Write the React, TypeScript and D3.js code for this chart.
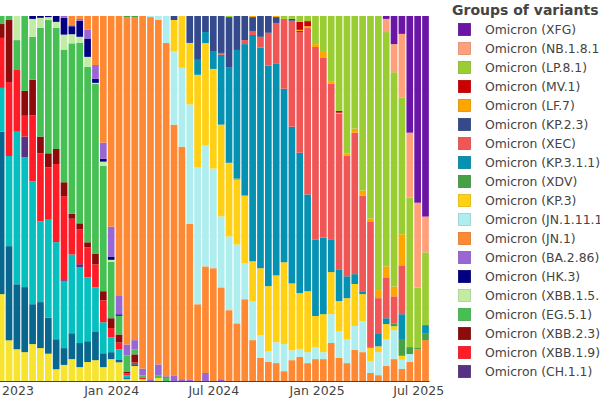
import React, { useEffect, useRef } from "react";
import * as d3 from "d3";

// biweekly samples, first one sits just left of the visible area
const firstWeek = "2023-06-19";
const weekCount = 55;
const tickDates = ["2023-07-01", "2024-01-01", "2024-07-01", "2025-01-01", "2025-07-01"];

// stack order, bottom to top
const variants = [
  "Omicron (XBB)",
  "Omicron (XBB.1.5)",
  "Omicron (XBB.1.16)",
  "Omicron (CH.1.1)",
  "Omicron (XBB.1.9)",
  "Omicron (XBB.2.3)",
  "Omicron (EG.5.1)",
  "Omicron (XBB.1.5.70)",
  "Omicron (HK.3)",
  "Omicron (BA.2.86)",
  "Omicron (JN.1)",
  "Omicron (JN.1.11.1)",
  "Omicron (KP.3)",
  "Omicron (XDV)",
  "Omicron (KP.3.1.1)",
  "Omicron (XEC)",
  "Omicron (KP.2.3)",
  "Omicron (LF.7)",
  "Omicron (MV.1)",
  "Omicron (LP.8.1)",
  "Omicron (NB.1.8.1)",
  "Omicron (XFG)",
];

const colors = [
  "#f6e42e", "#07678e", "#06bfbf", "#553284", "#ff1c27", "#8e0b0b",
  "#46bf53", "#c2eca4", "#000080", "#9966d4", "#ff8833", "#afeeee",
  "#ffd014", "#45a046", "#0591b1", "#f05656", "#344a8c", "#ffa500",
  "#cc0000", "#9acd32", "#ffa07a", "#6a15a6",
];

// share of sequences (%), one value per biweekly bar
const xbb = [23.8, 11.1, 8.7, 7.9, 10.1, 9.0, 7.4, 3.2, 4.4, 6.0, 3.8, 5.2, 5.7, 3.8, 6.0, 5.1, 0.5, 4.1, 0.5, 0, 0.8,
  0, 0, 0, 0, 0, 0, 0, 0, 0, 0, 0, 0, 0, 0, 0, 0, 0, 0, 0, 0, 0, 0, 0, 0, 0, 0, 0, 0, 0, 0, 0, 0, 0, 0];
const xbb15 = [44.5, 25.7, 17.8, 17.8, 10.9, 12.6, 9.8, 8.2, 4.6, 7.1, 6.6, 5.7, 7.9, 3.8, 1.9, 0.8, 0.3, 0.5,
  0, 0, 0, 0, 0, 0, 0, 0, 0, 0, 0, 0, 0, 0, 0, 0, 0, 0, 0, 0, 0, 0, 0, 0, 0, 0, 0, 0, 0, 0, 0, 0, 0, 0, 0, 0, 0];
const xbb116 = [12.0, 24.6, 41.8, 35.5, 33.6, 22.1, 26.5, 26.5, 18.3, 21.6, 20.8, 17.5, 12.0, 8.5, 4.1, 2.7, 0.8,
  0, 0, 0, 0, 0, 0, 0, 0, 0, 0, 0, 0, 0, 0, 0, 0, 0, 0, 0, 0, 0, 0, 0, 0, 0, 0, 0, 0, 0, 0, 0, 0, 0, 0, 0, 0, 0, 0];
const ch11 = [0, 0, 0, 5.7, 0, 0, 0, 0, 0.3, 0, 0.8,
  0, 0, 0, 0, 0, 0, 0, 0, 0, 0, 0, 0, 0, 0, 0, 0, 0, 0, 0, 0, 0, 0, 0, 0, 0, 0, 0, 0, 0, 0, 0, 0, 0, 0, 0, 0, 0, 0, 0, 0, 0, 0, 0, 0];
const xbb19 = [13.7, 20.2, 16.9, 5.7, 18.0, 18.6, 14.2, 21.3, 23.0, 9.8, 9.6, 8.2, 6.3, 6.0, 2.5, 1.9, 0.5, 0.5, 0.5,
  0, 0, 0, 0, 0, 0, 0, 0, 0, 0, 0, 0, 0, 0, 0, 0, 0, 0, 0, 0, 0, 0, 0, 0, 0, 0, 0, 0, 0, 0, 0, 0, 0, 0, 0, 0];
const xbb23 = [3.8, 16.9, 0, 6.8, 9.8, 4.6, 3.8, 4.1, 3.8, 1.4, 1.6, 1.4, 3.0, 2.5, 2.7, 2.2, 0.5, 2.2,
  0, 0, 0, 0, 0, 0, 0, 0, 0, 0, 0, 0, 0, 0, 0, 0, 0, 0, 0, 0, 0, 0, 0, 0, 0, 0, 0, 0, 0, 0, 0, 0, 0, 0, 0, 0, 0];
const eg51 = [2.2, 1.1, 8.2, 20.5, 11.7, 29.8, 36.1, 33.1, 36.3, 46.7, 49.5, 48.1, 46.4, 34.4, 15.5, 5.1, 4.4, 1.4, 0.5, 0, 0.8, 0.8,
  0, 0, 0, 0, 0, 0, 0, 0, 0, 0, 0, 0, 0, 0, 0, 0, 0, 0, 0, 0, 0, 0, 0, 0, 0, 0, 0, 0, 0, 0, 0, 0, 0];
const xbb1570 = [0, 0, 6.6, 0, 4.9, 2.7, 0.8, 1.6, 4.1, 2.5, 1.6, 2.7, 0.3, 1.1, 0.5,
  0, 0, 0, 0, 0, 0, 0, 0, 0, 0, 0, 0, 0, 0, 0, 0, 0, 0, 0, 0, 0, 0, 0, 0, 0, 0, 0, 0, 0, 0, 0, 0, 0, 0, 0, 0, 0, 0, 0, 0];
const hk3 = [0, 0, 0, 0, 0.8, 0.5, 0.3, 1.6, 4.6, 2.2, 4.4, 4.9, 1.1, 0.8, 0.9, 0.4,
  0, 0, 0, 0, 0, 0, 0, 0, 0, 0, 0, 0, 0, 0, 0, 0, 0, 0, 0, 0, 0, 0, 0, 0, 0, 0, 0, 0, 0, 0, 0, 0, 0, 0, 0, 0, 0, 0, 0];
const ba286 = [0, 0, 0, 0, 0, 0, 0, 0, 0.5, 0.3, 0.5, 2.5, 3.8, 4.4, 8.2, 5.2, 3.0, 2.5, 1.9, 0.5, 3.0, 0.5, 1.4, 0.5, 0.3, 0, 2.2, 0, 0.5,
  0, 0, 0, 0, 0, 0, 0, 0, 0, 0, 0, 0, 0, 0, 0, 0, 0, 0, 0, 0, 0, 0, 0, 0, 0, 0];
const jn1 = [0, 0, 0, 0, 0, 0, 0, 0, 0, 2.5, 0.8, 3.8, 13.4, 34.7, 57.7, 76.2, 89.6, 88.5, 96.4, 99.2, 95.4, 91.3, 68.9, 63.7,
  42.9, 21.0, 29.2, 30.9, 25.1, 19.4, 15.8, 22.4, 11.2, 6.3, 5.2, 4.9, 2.7, 5.7, 6.6, 4.9, 6.0, 6.0, 10.4, 6.3, 4.9, 8.5,
  7.9, 2.2, 1.6, 4.1, 6.0, 3.3, 5.2, 8.7, 11.2];
const jn1111 = [0, 0, 0, 0, 0, 0, 0, 0, 0, 0, 0, 0, 0, 0, 0, 0, 0, 0, 0, 0.3, 1.1, 7.4, 20.2, 21.6, 32.8, 37.4, 33.1, 27.3,
  19.4, 20.2, 21.6, 9.8, 10.7, 6.3, 3.0, 5.7, 7.4, 2.7, 2.2, 3.0, 3.3, 1.9, 7.9, 7.4, 6.6, 6.6, 8.5, 3.3, 6.3, 7.4, 7.9,
  2.5, 2.2, 0, 0];
const kp3 = [0, 0, 0, 0, 0, 0, 0, 0, 0, 0, 0, 0, 0, 0, 0, 0, 0, 0, 0, 0, 0, 0, 8.5, 14.2, 16.9, 25.4, 28.1, 27.3, 25.1, 20.2,
  17.8, 18.6, 10.9, 18.3, 17.8, 18.3, 22.4, 18.3, 15.3, 16.7, 8.5, 10.4, 11.5, 8.2, 11.2, 11.5, 7.4, 3.6, 1.6, 4.1, 1.1,
  1.1, 0, 0, 0];
const xdv = [0, 0, 0, 0, 0, 0, 0, 0, 0, 0, 0, 0, 0, 0, 0, 0, 0.3, 0.3, 0, 0, 0, 0, 0, 0, 0, 0, 0, 0, 0, 0, 0.3,
  0, 0, 0, 0, 0, 0, 0, 0, 0, 0, 0, 0, 0, 0, 0, 0, 0, 0, 0, 0.8, 4.6, 1.9, 0.5, 1.9];
const kp311 = [0, 0, 0, 0, 0, 0, 0, 0, 0, 0, 0, 0, 0, 0, 0, 0, 0, 0, 0, 0, 0, 0, 0, 0, 0, 4.1, 3.0, 4.9, 19.1, 26.2, 35.2,
  41.5, 62.0, 60.4, 60.4, 57.9, 47.5, 42.9, 38.5, 26.5, 21.0, 21.0, 9.0, 8.7, 6.0, 2.7, 0.8, 0, 3.6, 1.6, 0, 6.8, 0, 0, 2.2];
const xec = [0, 0, 0, 0, 0, 0, 0, 0, 0, 0, 0, 0, 0, 0, 0, 0, 0, 0, 0, 0, 0, 0, 0, 0, 0, 0, 0, 0, 0.5, 0, 0, 1.1, 1.1, 3.0,
  9.0, 11.2, 19.1, 29.0, 33.1, 45.6, 52.7, 49.2, 42.6, 42.6, 33.1, 38.8, 26.2, 34.7, 9.6, 11.2, 7.4, 13.4, 0, 0, 0];
const kp23 = [0, 0, 0, 0, 0, 0, 0, 0, 0, 0, 0, 0, 0, 0, 0, 0, 0, 0, 0, 0, 0, 0, 1.1, 0, 7.4, 12.0, 4.4, 9.6, 10.1, 13.7, 9.3,
  6.6, 3.8, 5.7, 4.6, 1.6, 0, 0.5, 0.3, 0, 0, 0, 0, 0, 0, 0, 0, 0, 0, 0, 0, 0, 0, 0, 0];
const lf7 = [0, 0, 0, 0, 0, 0, 0, 0, 0, 0, 0, 0, 0, 0, 0, 0, 0, 0, 0, 0, 0, 0, 0, 0, 0, 0, 0, 0, 0, 0, 0, 0, 0.3, 0, 0, 0.3,
  0, 0, 0.3, 0.5, 0.8, 1.9, 0.5, 0.3, 0.5, 1.1, 1.4, 0.8, 2.2, 3.0, 2.7, 8.5, 0, 0, 0];
const mv1 = [0, 0, 0, 0, 0, 0, 0, 0, 0, 0, 0, 0, 0, 0, 0, 0, 0, 0, 0, 0, 0, 0, 0, 0, 0, 0, 0, 0, 0, 0, 0, 0, 0, 0, 0, 0, 0, 0,
  2.2, 1.4, 0, 0, 0, 0.5, 0, 0, 0, 0, 0, 0, 0, 0, 0, 0, 0];
const lp81 = [0, 0, 0, 0, 0, 0, 0, 0, 0, 0, 0, 0, 0, 0, 0, 0, 0, 0, 0, 0, 0, 0, 0, 0, 0, 0, 0, 0, 0, 0.3, 0, 0, 0, 0, 0, 0,
  0.8, 0.8, 1.6, 1.4, 7.7, 9.6, 18.0, 26.0, 37.7, 30.9, 47.8, 55.5, 75.1, 64.2, 58.7, 37.4, 41.0, 16.4, 19.9];
const nb181 = [0, 0, 0, 0, 0, 0, 0, 0, 0, 0, 0, 0, 0, 0, 0, 0, 0, 0, 0, 0, 0, 0, 0, 0, 0, 0, 0, 0, 0, 0, 0, 0, 0, 0, 0, 0,
  0, 0, 0, 0, 0, 0, 0, 0, 0, 0, 0, 0, 0, 3.6, 7.7, 17.5, 17.8, 23.2, 9.8];
const xfg = [0, 0, 0, 0, 0, 0, 0, 0, 0, 0, 0, 0, 0, 0, 0, 0, 0, 0, 0, 0, 0, 0, 0, 0, 0, 0, 0, 0, 0, 0, 0, 0, 0, 0, 0, 0,
  0, 0, 0, 0, 0, 0, 0, 0, 0, 0, 0, 0, 0, 0.8, 7.7, 4.9, 32.0, 51.1, 54.9];

const seriesValues = [xbb, xbb15, xbb116, ch11, xbb19, xbb23, eg51, xbb1570, hk3, ba286, jn1, jn1111,
  kp3, xdv, kp311, xec, kp23, lf7, mv1, lp81, nb181, xfg];

// only the top of the legend fits in the frame
const legendCount = 19;

const App: React.FC = () => {
  const svgRef = useRef<SVGSVGElement>(null);

  useEffect(() => {
    if (!svgRef.current) return;
    const svg = d3.select(svgRef.current);
    svg.selectAll("*").remove();

    const font = "Verdana, 'DejaVu Sans', sans-serif";
    const textColor = "#444";
    const plot = { left: 0, right: 430, top: 16, bottom: 381 };

    const parse = d3.utcParse("%Y-%m-%d");
    const start = parse(firstWeek)!;
    const dates = d3.range(weekCount).map(i => d3.utcDay.offset(start, i * 14));

    const x = d3.scaleUtc()
      .domain([parse("2023-07-01")!, parse("2025-07-01")!])
      .range([7.9, 418.2]);
    const y = d3.scaleLinear().domain([0, 1]).range([plot.bottom, plot.top]);

    const rows = dates.map((d, i) => {
      const r: any = { date: d };
      variants.forEach((v, j) => { r[v] = seriesValues[j][i]; });
      return r;
    });
    const stacked = d3.stack<any>()
      .keys(variants)
      .offset(d3.stackOffsetExpand)(rows);

    const color = d3.scaleOrdinal<string, string>().domain(variants).range(colors);
    const step = x(d3.utcDay.offset(start, 14)) - x(start);
    const barW = step * 0.85;

    svg.append("defs").append("clipPath").attr("id", "plot-clip")
      .append("rect")
      .attr("x", plot.left).attr("y", 0)
      .attr("width", plot.right - plot.left).attr("height", 400);

    const g = svg.append("g").attr("clip-path", "url(#plot-clip)");

    g.append("g")
      .selectAll("line")
      .data([0.2, 0.4, 0.6, 0.8])
      .join("line")
      .attr("x1", plot.left).attr("x2", plot.right)
      .attr("y1", d => Math.round(y(d)) + 0.5).attr("y2", d => Math.round(y(d)) + 0.5)
      .attr("stroke", "#eeeeee")
      .attr("stroke-width", 1);

    g.append("g")
      .selectAll("g")
      .data(stacked)
      .join("g")
      .attr("fill", d => color(d.key))
      .selectAll("rect")
      .data(d => d.filter(p => p[1] - p[0] > 0))
      .join("rect")
      .attr("x", p => x(p.data.date) - barW / 2)
      .attr("width", barW)
      .attr("y", p => y(p[1]))
      .attr("height", p => y(p[0]) - y(p[1]));

    const axis = svg.append("g")
      .attr("transform", `translate(0,${plot.bottom})`)
      .call(d3.axisBottom(x)
        .tickValues(tickDates.map(t => parse(t)!))
        .tickSize(0)
        .tickFormat(d => d3.utcFormat("%b %Y")(d as Date)));
    axis.select(".domain").remove();
    axis.selectAll("text")
      .attr("y", 14)
      .attr("dy", null)
      .attr("fill", textColor)
      .style("font-family", font)
      .style("font-size", "12.5px");

    svg.append("line")
      .attr("x1", plot.left).attr("x2", plot.right - 0.5)
      .attr("y1", plot.bottom + 0.5).attr("y2", plot.bottom + 0.5)
      .attr("stroke", "#444")
      .attr("stroke-width", 1);

    // legend, top of the stack first
    const legend = svg.append("g");
    legend.append("text")
      .attr("x", 452).attr("y", 15)
      .attr("fill", textColor)
      .style("font-family", font)
      .style("font-size", "14px")
      .style("font-weight", "bold")
      .text("Groups of variants");

    const items = variants.slice().reverse().slice(0, legendCount);
    const item = legend.selectAll("g.item")
      .data(items)
      .join("g")
      .attr("class", "item")
      .attr("transform", (_, i) => `translate(0,${29.5 + i * 19})`);
    item.append("rect")
      .attr("x", 458.5).attr("y", -6)
      .attr("width", 12).attr("height", 12)
      .attr("fill", d => color(d))
      .attr("stroke", d => d3.color(color(d))!.darker(0.4).formatHex())
      .attr("stroke-width", 0.8);
    item.append("text")
      .attr("x", 485).attr("y", 4.5)
      .attr("fill", textColor)
      .style("font-family", font)
      .style("font-size", "12.4px")
      .text(d => d);
  }, []);

  return (
    <svg
      ref={svgRef}
      width={600}
      height={400}
      style={{ position: "fixed", left: 0, top: 0, background: "#ffffff", overflow: "hidden" }}
    />
  );
};

export default App;
